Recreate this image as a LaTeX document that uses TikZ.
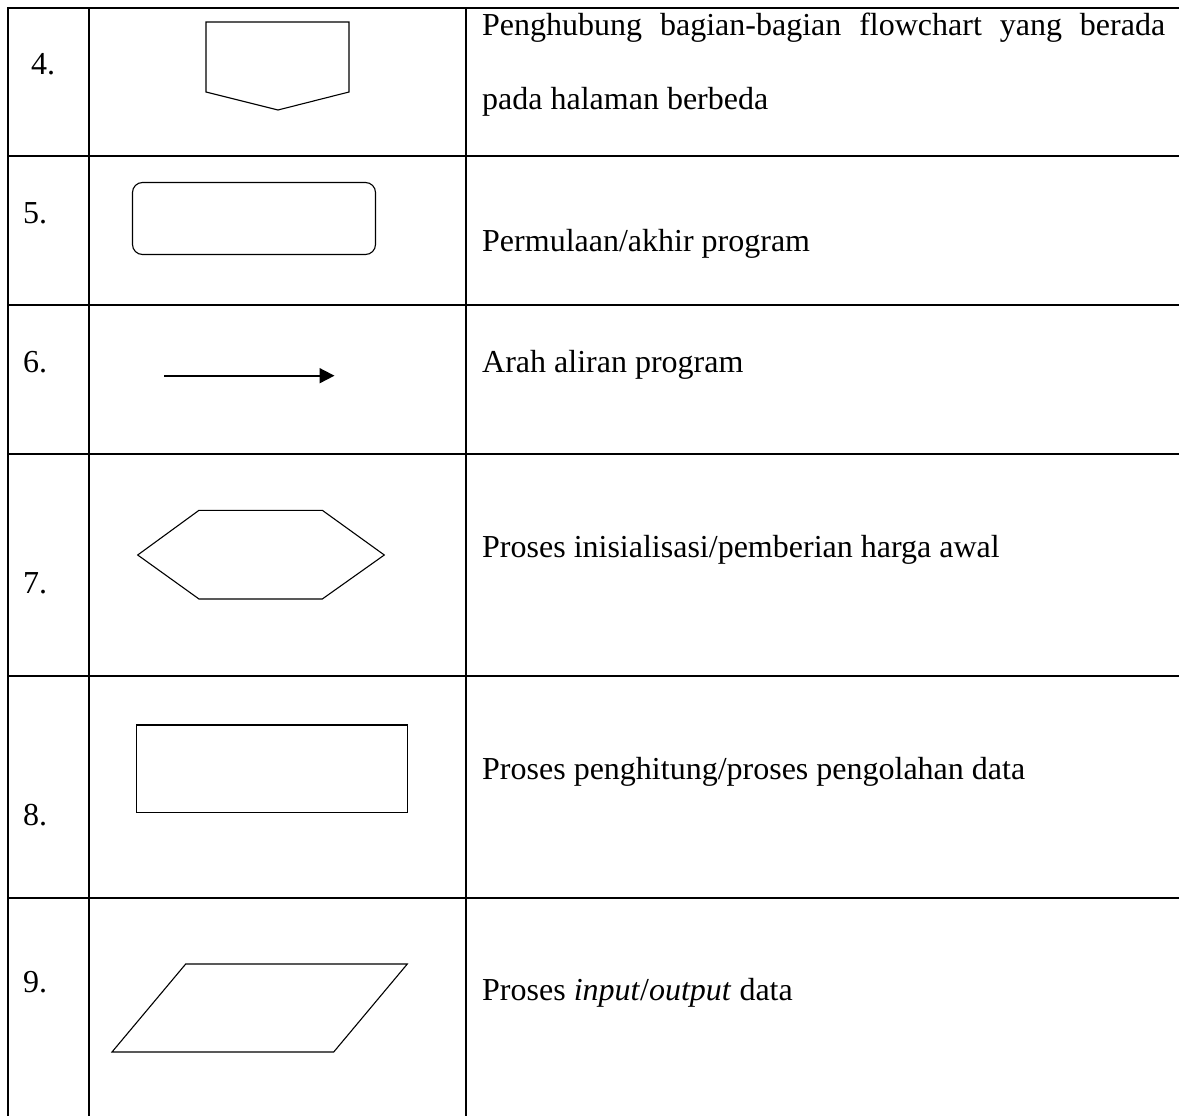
\documentclass[tikz,border=0pt]{standalone}
\usepackage{fontspec}
\setmainfont{Liberation Serif}
\usetikzlibrary{arrows.meta}
\tikzset{
  grid/.style={line width=1.4pt, black},
  shp/.style={line width=1.1pt, black, line join=miter},
  txt/.style={anchor=base west, inner sep=0pt, font=\fontsize{32pt}{38pt}\selectfont},
  num/.style={anchor=base west, inner sep=0pt, font=\fontsize{32pt}{38pt}\selectfont}
}
\begin{document}
\begin{tikzpicture}[x=1pt,y=-1pt]
\useasboundingbox (0,0) rectangle (1179,1116);
\fill[white] (0,0) rectangle (1179,1116);
% table grid
\draw[grid] (8,1116) -- (8,8) -- (1179,8);
\draw[grid] (89,8) -- (89,1116);
\draw[grid] (466,8) -- (466,1116);
\foreach \yy in {156,305,454,676,898} \draw[grid] (8,\yy) -- (1179,\yy);
% numbers
\node[num] (n4) at (31,75) {4.};
\node[num] (n5) at (23,223) {5.};
\node[num] (n6) at (23,372) {6.};
\node[num] (n7) at (23,593) {7.};
\node[num] (n8) at (23,825) {8.};
\node[num] (n9) at (23,992) {9.};
% shapes
\draw[shp] (206,22) -- (349,22) -- (349,92) -- (278,110) -- (206,92) -- cycle;
\draw[shp, rounded corners=10pt] (132.5,182.5) rectangle (375.5,254.5);
\coordinate (a1) at (164,375.7);
\coordinate (a2) at (334.5,375.7);
\draw[line width=1.8pt, -{Triangle[length=15pt,width=15pt]}] (a1) -- (a2);
\draw[shp] (137.7,555) -- (199,510.3) -- (322.3,510.3) -- (384.3,555) -- (322.3,599) -- (199,599) -- cycle;
\draw[shp] (136.7,725) rectangle (407.7,812.7);
\draw[shp] (185.7,964) -- (407.3,964) -- (333.7,1052) -- (112,1052) -- cycle;
% descriptions
\node[txt] (t4a) at (482,36) {\makebox[683pt][s]{Penghubung bagian-bagian flowchart yang berada}};
\node[txt] (t4b) at (482,110) {pada halaman berbeda};
\node[txt] (t5) at (482,251) {Permulaan/akhir program};
\node[txt] (t6) at (482,372) {Arah aliran program};
\node[txt] (t7) at (482,557) {Proses inisialisasi/pemberian harga awal};
\node[txt] (t8) at (482,779) {Proses penghitung/proses pengolahan data};
\node[txt] (t9) at (482,1000) {Proses \textit{input}/\textit{output} data};
\end{tikzpicture}
\end{document}
